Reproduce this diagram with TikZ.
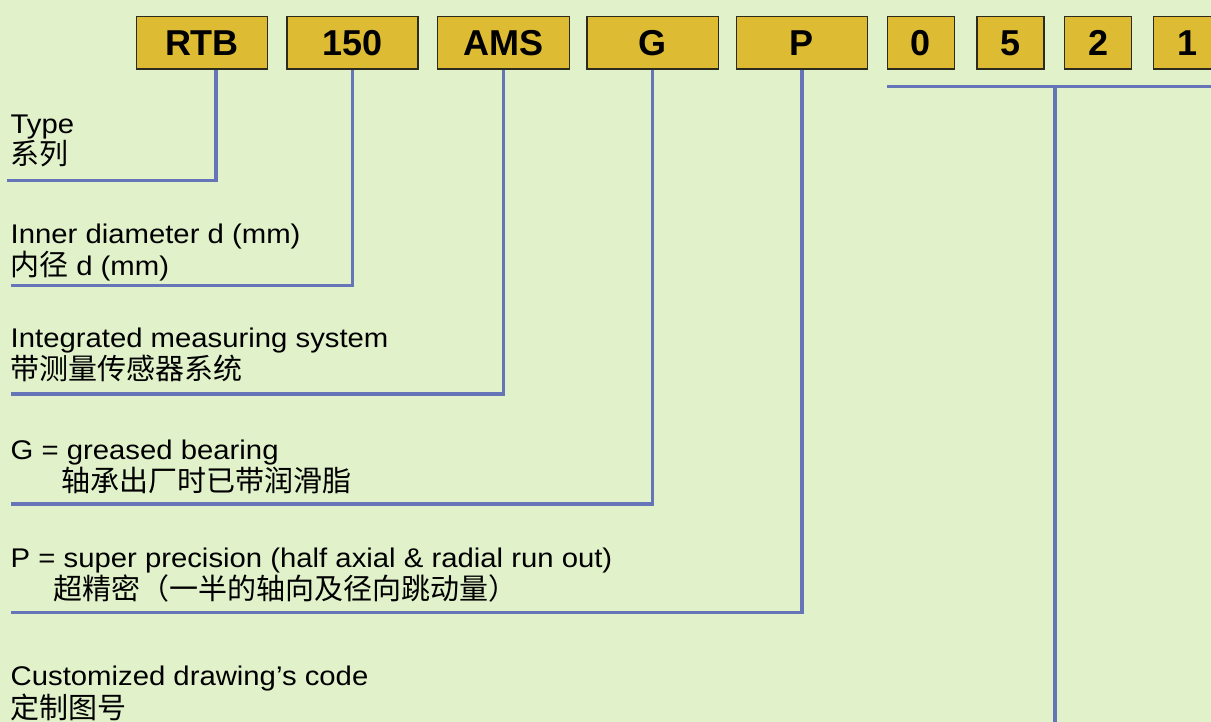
\documentclass[tikz,border=0pt]{standalone}
\usepackage{fontspec}
\setmainfont{Liberation Sans}[FakeStretch=1.085]
\newfontfamily\boxfont{Liberation Sans}
\newfontfamily\cjk{Noto Sans CJK SC}
\definecolor{bgc}{RGB}{225,241,202}
\definecolor{boxfill}{RGB}{221,187,51}
\definecolor{boxline}{RGB}{45,42,30}
\definecolor{leadc}{RGB}{102,116,184}
\begin{document}
\begin{tikzpicture}[x=1pt,y=-1pt,
  codebox/.style={draw=boxline, fill=boxfill, line width=1.3pt, inner sep=0pt,
    text height=25.8pt, text depth=0pt, minimum height=52.6pt, anchor=north west,
    font=\boxfont\bfseries\fontsize{36}{36}\selectfont},
  lbl/.style={anchor=base west, inner sep=0pt, font=\fontsize{27}{32}\selectfont},
  cjklbl/.style={anchor=base west, inner sep=0pt, font=\cjk\fontsize{29}{32}\selectfont},
  leader/.style={draw=leadc, line width=3.2pt}]
\useasboundingbox (0,0) rectangle (1211,722);
\fill[bgc] (0,0) rectangle (1211,722);

% code boxes
\node[codebox, minimum width=131.3pt] (rtb) at (135.7,15.7) {RTB};
\node[codebox, minimum width=131pt] (b150) at (286.3,15.7) {150};
\node[codebox, minimum width=132pt] (ams) at (436.7,15.7) {AMS};
\node[codebox, minimum width=131.2pt] (g) at (586.4,15.7) {G};
\node[codebox, minimum width=131.2pt] (p) at (735.7,15.7) {P};
\node[codebox, minimum width=67pt] (d0) at (886.7,15.7) {0};
\node[codebox, minimum width=67pt] (d5) at (976.3,15.7) {5};
\node[codebox, minimum width=67pt] (d2) at (1064,15.7) {2};
\node[codebox, minimum width=67pt] (d1) at (1153,15.7) {1};

% leader end points
\coordinate (e1) at (7.3,180.7);
\coordinate (e2) at (10.7,285.7);
\coordinate (e3) at (10.7,394);
\coordinate (e4) at (10.7,504);
\coordinate (e5) at (10.7,612.3);
\coordinate (bl) at (887.3,86.7);
\coordinate (br) at (1216,86.7);
\coordinate (bj) at (1055,86.7);
\coordinate (bd) at (1055,730);

\draw[leader] ([xshift=14pt]rtb.south) |- (e1);
\draw[leader] (b150.south) |- (e2);
\draw[leader] (ams.south) |- (e3);
\draw[leader] (g.south) |- (e4);
\draw[leader] (p.south) |- (e5);
\draw[leader] (bl) -- (br);
\draw[leader] (bj) -- (bd);

% labels
\node[lbl] (t1) at (10.5,133.3) {Type};
\node[cjklbl] (t1c) at (10,164.7) {系列};
\node[lbl] (t2) at (10.5,243.3) {Inner diameter d (mm)};
\node[lbl] (t2c) at (10,275.5) {{\cjk\fontsize{29}{32}\selectfont 内径} d (mm)};
\node[lbl] (t3) at (10.5,347.3) {Integrated measuring system};
\node[cjklbl] (t3c) at (10,379.7) {带测量传感器系统};
\node[lbl] (t4) at (10.5,459.3) {G = greased bearing};
\node[cjklbl] (t4c) at (61.5,491.3) {轴承出厂时已带润滑脂};
\node[lbl] (t5) at (10.5,567.3) {P = super precision (half axial \& radial run out)};
\node[cjklbl] (t5c) at (53.5,599.7) {超精密（一半的轴向及径向跳动量）};
\node[lbl] (t6) at (10.5,685.7) {Customized drawing’s code};
\node[cjklbl] (t6c) at (10,718) {定制图号};
\end{tikzpicture}
\end{document}
